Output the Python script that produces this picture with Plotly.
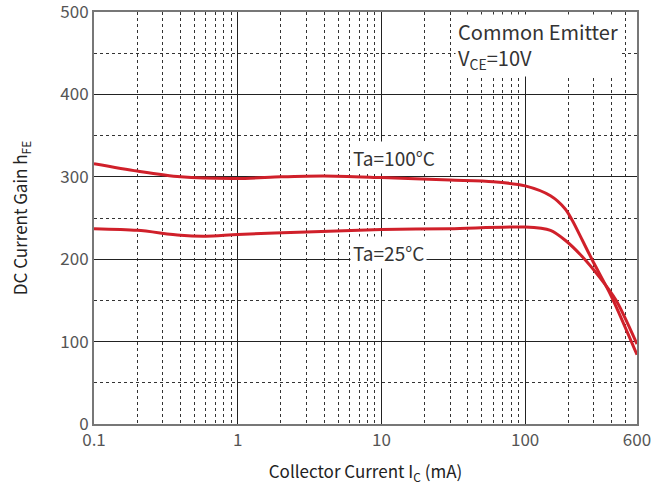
import math
import plotly.graph_objects as go

# Collector current (mA) and DC current gain readings
ic_100 = [0.1, 0.2, 0.4, 1, 2, 4, 10, 30, 60, 100, 150, 190, 213, 250, 293, 400, 600]
hfe_100 = [316, 307, 300, 298, 300, 301, 299, 296, 294, 289, 277, 261, 247, 223, 199, 154, 84]

ic_25 = [0.1, 0.2, 0.4, 0.6, 1, 3, 10, 30, 100, 150, 190, 250, 330, 430, 600]
hfe_25 = [237, 235, 229, 228, 230, 233, 236, 237, 239, 235, 223, 203, 178, 150, 97]

x_tickvals = [0.1, 1, 10, 100, 600]
x_ticktext = ["0.1", "1", "10", "100", "600"]
y_tickvals = [0, 100, 200, 300, 400, 500]

RED = "#d0202a"
FONT = "Noto Sans CJK SC"

fig = go.Figure()
fig.add_trace(go.Scatter(x=ic_100, y=hfe_100, mode="lines",
                         line=dict(color=RED, width=3, shape="spline", smoothing=0.8),
                         showlegend=False))
fig.add_trace(go.Scatter(x=ic_25, y=hfe_25, mode="lines",
                         line=dict(color=RED, width=3, shape="spline", smoothing=0.8),
                         showlegend=False))

fig.update_layout(
    width=669, height=488,
    margin=dict(l=94, r=32, t=12, b=64),
    paper_bgcolor="white", plot_bgcolor="white",
    font=dict(family=FONT, color="#333"),
    xaxis=dict(
        type="log", range=[math.log10(0.1), math.log10(600)],
        tickvals=x_tickvals, ticktext=x_ticktext, automargin=False,
        showgrid=True, gridcolor="#222", gridwidth=1,
        showline=True, linecolor="#777", linewidth=2, mirror=True,
        ticks="", tickfont=dict(size=17, color="#555"),
        minor=dict(dtick="D1", showgrid=True, gridcolor="#333", griddash="3px,3px", gridwidth=1, ticks=""),
        title=dict(text="Collector Current I<sub>C</sub> (mA)", font=dict(size=17, color="#222"), standoff=16),
        zeroline=False,
    ),
    yaxis=dict(
        range=[0, 500], tickvals=y_tickvals, automargin=False,
        showgrid=True, gridcolor="#222", gridwidth=1,
        showline=True, linecolor="#777", linewidth=2, mirror=True,
        ticks="", tickfont=dict(size=17, color="#555"), ticklabeloverflow="allow",
        minor=dict(dtick=50, showgrid=True, gridcolor="#333", griddash="3px,3px", gridwidth=1, ticks=""),
        title=dict(text="DC Current Gain h<sub>FE</sub>", font=dict(size=17, color="#222"), standoff=28),
        zeroline=False,
    ),
)

fig.add_annotation(x=0.472, xref="paper", y=323, yref="y", text="Ta=100°C",
                   showarrow=False, xanchor="left", yanchor="middle",
                   font=dict(size=19, color="#333", family=FONT), bgcolor="white", borderpad=2)
fig.add_annotation(x=0.472, xref="paper", y=208, yref="y", text="Ta=25°C",
                   showarrow=False, xanchor="left", yanchor="middle",
                   font=dict(size=19, color="#333", family=FONT), bgcolor="white", borderpad=2)
fig.add_annotation(x=0.665, xref="paper", y=0.995, yref="paper",
                   text="Common Emitter<br>V<sub>CE</sub>=10V", align="left",
                   showarrow=False, xanchor="left", yanchor="top",
                   font=dict(size=20, color="#333", family=FONT), bgcolor="white", borderpad=2)

fig.write_html("out.html")
